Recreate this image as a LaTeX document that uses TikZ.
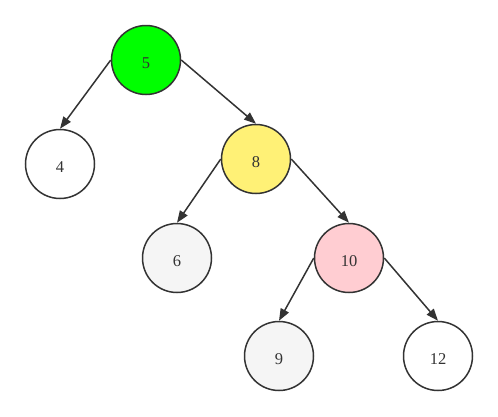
\documentclass[tikz,border=0pt]{standalone}
\usepackage{fontspec}
\setmainfont{Liberation Serif}
\usetikzlibrary{arrows.meta}
\definecolor{Ink}{HTML}{333333}
\definecolor{Lime}{HTML}{00FF00}
\definecolor{Butter}{HTML}{FFF176}
\definecolor{Blush}{HTML}{FFCDD2}
\definecolor{Smoke}{HTML}{F5F5F5}
\tikzset{
  keynode/.style={
    circle, draw=Ink, line width=1.5pt, fill=white, text=Ink,
    minimum size=69pt, inner sep=0pt, text height=17pt, text depth=0pt,
    font=\fontsize{16.5}{18}\selectfont
  },
  edge/.style={-{Triangle[length=12pt,width=9pt]}, line width=1.5pt, draw=Ink}
}
\begin{document}
\begin{tikzpicture}[x=1pt,y=-1pt]
    \useasboundingbox (0,0) rectangle (498,416);
    \node[keynode,fill=Lime] (n5) at (146,60) {5};
    \node[keynode] (n4) at (60,164) {4};
    \node[keynode,fill=Butter] (n8) at (256,159) {8};
    \node[keynode,fill=Smoke] (n6) at (177,258) {6};
    \node[keynode,fill=Blush] (n10) at (349,258) {10};
    \node[keynode,fill=Smoke] (n9) at (279,356) {9};
    \node[keynode] (n12) at (438,356) {12};
    \draw[edge] (n5.west)--(n4.north);
    \draw[edge] (n5.east)--(n8.north);
    \draw[edge] (n8.west)--(n6.north);
    \draw[edge] (n8.east)--(n10.north);
    \draw[edge] (n10.west)--(n9.north);
    \draw[edge] (n10.east)--(n12.north);
\end{tikzpicture}
\end{document}
